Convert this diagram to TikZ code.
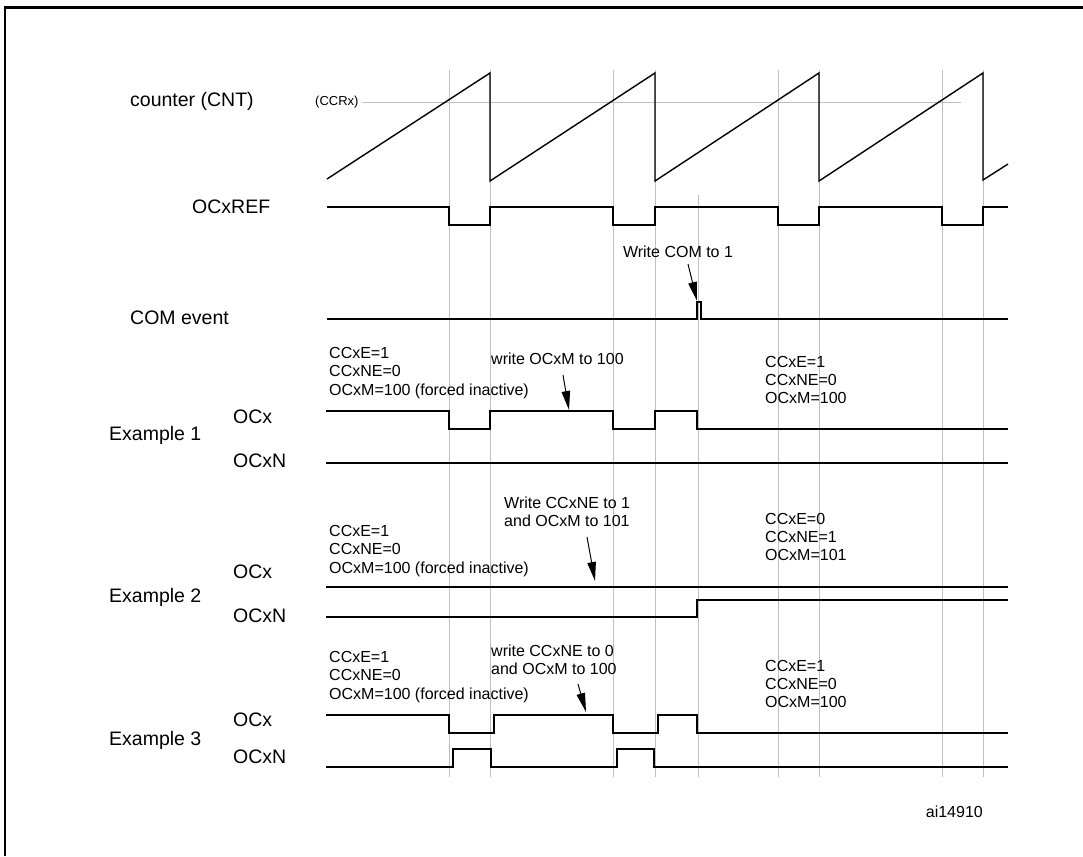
\documentclass[tikz,border=0pt]{standalone}
\usepackage{fontspec}
\setmainfont{Liberation Sans}
\usetikzlibrary{arrows.meta}
\begin{document}
\begin{tikzpicture}[x=1pt,y=-1pt,
  gridln/.style={draw=black!25, line width=0.9pt},
  sig/.style={line width=1.9pt, line join=miter},
  saw/.style={line width=1.4pt, line join=miter},
  lbl/.style={font=\fontsize{19.5}{22}\selectfont, inner sep=0pt, anchor=west},
  txt/.style={font=\fontsize{16}{18.3}\selectfont, inner sep=0pt, anchor=west, align=left},
  arr/.style={-{Triangle[length=19pt,width=8.5pt]}, line width=1pt}]
\useasboundingbox (0,0) rectangle (1083,856);
% frame
\draw[line width=2.6pt] (5,856) -- (5,7.5) -- (1083,7.5);
% grid lines
\foreach \gx in {449,490,613,655,778,819,942,983}
  \draw[gridln] (\gx,70) -- (\gx,777);
\draw[gridln] (698,195) -- (698,777);
\draw[gridln] (362,102) -- (961,102);
% labels left
\node[lbl] (cnt) at (130,101) {counter (CNT)};
\node[lbl] (ref) at (192,207) {OCxREF};
\node[lbl] (com) at (130,318) {COM event};
\node[lbl] (ex1) at (109,435) {Example 1};
\node[lbl] (ex1a) at (233,417) {OCx};
\node[lbl] (ex1b) at (233,461) {OCxN};
\node[lbl] (ex2) at (109,597) {Example 2};
\node[lbl] (ex2a) at (233,572) {OCx};
\node[lbl] (ex2b) at (233,616) {OCxN};
\node[lbl] (ex3) at (109,740) {Example 3};
\node[lbl] (ex3a) at (233,720) {OCx};
\node[lbl] (ex3b) at (233,757) {OCxN};
\node[inner sep=0pt, anchor=west, font=\fontsize{13}{15}\selectfont] (ccr) at (315,102) {(CCRx)};
% counter
\draw[saw] (327,179) -- (490,73) -- (490,181) -- (655,73) -- (655,181) -- (819,73) -- (819,181) -- (983,73) -- (983,180) -- (1008,164);
% OCxREF
\draw[sig] (327,207) -- (449,207) -- (449,225) -- (490,225) -- (490,207) -- (613,207) -- (613,225) -- (655,225) -- (655,207) -- (778,207) -- (778,225) -- (819,225) -- (819,207) -- (942,207) -- (942,225) -- (983,225) -- (983,207) -- (1008,207);
% COM event
\draw[sig] (327,319) -- (697,319) -- (697,302) -- (701,302) -- (701,319) -- (1008,319);
\node[txt, anchor=center] (comw) at (678,252) {Write COM to 1};
\coordinate (comt) at (688,264);
\coordinate (comh) at (697,301);
\draw[arr] (comt) -- (comh);
% Example 1
\node[txt] (e1l) at (329,373) {CCxE=1\\CCxNE=0\\OCxM=100 (forced inactive)};
\node[txt] (e1w) at (491,359) {write OCxM to 100};
\node[txt] (e1r) at (765,380) {CCxE=1\\CCxNE=0\\OCxM=100};
\coordinate (e1t) at (563,375);
\coordinate (e1h) at (569,410);
\draw[arr] (e1t) -- (e1h);
\draw[sig] (326,411) -- (449,411) -- (449,429) -- (490,429) -- (490,411) -- (613,411) -- (613,429) -- (655,429) -- (655,411) -- (697,411) -- (697,429) -- (1008,429);
\draw[sig] (326,463) -- (1008,463);
% Example 2
\node[txt] (e2l) at (329,551) {CCxE=1\\CCxNE=0\\OCxM=100 (forced inactive)};
\node[txt] (e2w) at (504,512) {Write CCxNE to 1\\and OCxM to 101};
\node[txt] (e2r) at (765,537) {CCxE=0\\CCxNE=1\\OCxM=101};
\coordinate (e2t) at (587,537);
\coordinate (e2h) at (595,581);
\draw[arr] (e2t) -- (e2h);
\draw[sig] (326,587) -- (1008,587);
\draw[sig] (326,617) -- (697,617) -- (697,600) -- (1008,600);
% Example 3
\node[txt] (e3l) at (329,677) {CCxE=1\\CCxNE=0\\OCxM=100 (forced inactive)};
\node[txt] (e3w) at (491,660) {write CCxNE to 0\\and OCxM to 100};
\node[txt] (e3r) at (765,684) {CCxE=1\\CCxNE=0\\OCxM=100};
\coordinate (e3t) at (578,684);
\coordinate (e3h) at (586,712);
\draw[arr] (e3t) -- (e3h);
\draw[sig] (326,715) -- (449,715) -- (449,733) -- (494,733) -- (494,715) -- (613,715) -- (613,733) -- (658,733) -- (658,715) -- (697,715) -- (697,733) -- (1008,733);
\draw[sig] (326,767) -- (453,767) -- (453,749) -- (491,749) -- (491,767) -- (617,767) -- (617,749) -- (654,749) -- (654,767) -- (1008,767);
% id
\node[txt, anchor=east] (id) at (983,812) {ai14910};
\end{tikzpicture}
\end{document}
